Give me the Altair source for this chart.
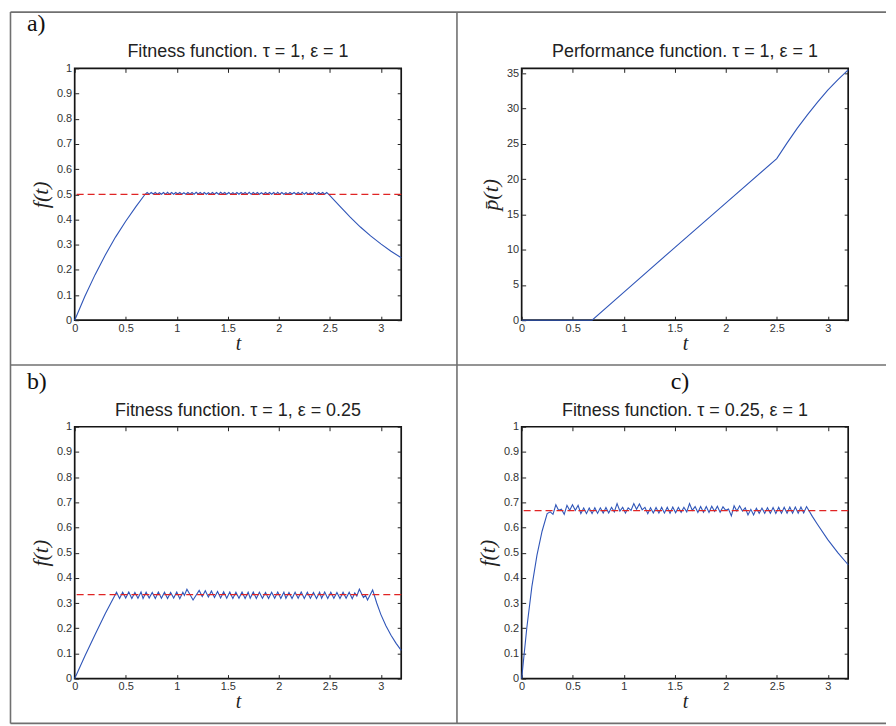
import altair as alt
import pandas as pd

# ---------------- data ----------------
X_TICKS = [0, 0.5, 1, 1.5, 2, 2.5, 3]
F_TICKS = [0, 0.1, 0.2, 0.3, 0.4, 0.5, 0.6, 0.7, 0.8, 0.9, 1]
P_TICKS = [0, 5, 10, 15, 20, 25, 30, 35]

# a) fitness, tau = 1, eps = 1
A_T = [0, 0.1, 0.2, 0.3, 0.4, 0.5, 0.6, 0.69,
       0.71, 0.73, 0.75, 0.77, 0.79, 0.81, 0.83, 0.85, 0.87, 0.89,
       0.91, 0.93, 0.95, 0.97, 0.99, 1.01, 1.03, 1.05, 1.07, 1.09,
       1.11, 1.13, 1.15, 1.17, 1.19, 1.21, 1.23, 1.25, 1.27, 1.29,
       1.31, 1.33, 1.35, 1.37, 1.39, 1.41, 1.43, 1.45, 1.47, 1.49,
       1.51, 1.53, 1.55, 1.57, 1.59, 1.61, 1.63, 1.65, 1.67, 1.69,
       1.71, 1.73, 1.75, 1.77, 1.79, 1.81, 1.83, 1.85, 1.87, 1.89,
       1.91, 1.93, 1.95, 1.97, 1.99, 2.01, 2.03, 2.05, 2.07, 2.09,
       2.11, 2.13, 2.15, 2.17, 2.19, 2.21, 2.23, 2.25, 2.27, 2.29,
       2.31, 2.33, 2.35, 2.37, 2.39, 2.41, 2.43, 2.45, 2.47, 2.49,
       2.6, 2.7, 2.8, 2.9, 3.0, 3.1, 3.2]
A_F = [0, 0.095, 0.181, 0.259, 0.330, 0.393, 0.451, 0.500,
       0.507, 0.500, 0.507, 0.501, 0.507, 0.500, 0.506, 0.500, 0.507, 0.500,
       0.508, 0.500, 0.507, 0.500, 0.507, 0.501, 0.507, 0.500, 0.506, 0.500,
       0.507, 0.500, 0.507, 0.500, 0.508, 0.501, 0.507, 0.500, 0.507, 0.500,
       0.506, 0.500, 0.507, 0.500, 0.507, 0.500, 0.508, 0.501, 0.507, 0.500,
       0.507, 0.500, 0.506, 0.500, 0.507, 0.500, 0.507, 0.501, 0.507, 0.500,
       0.508, 0.500, 0.507, 0.500, 0.507, 0.500, 0.506, 0.500, 0.507, 0.501,
       0.507, 0.500, 0.507, 0.500, 0.508, 0.500, 0.507, 0.500, 0.506, 0.500,
       0.507, 0.501, 0.507, 0.500, 0.507, 0.500, 0.508, 0.500, 0.507, 0.500,
       0.506, 0.500, 0.507, 0.500, 0.507, 0.501, 0.507, 0.500, 0.507, 0.500,
       0.452, 0.409, 0.370, 0.335, 0.303, 0.274, 0.248]
A_REF = 0.5

# performance, tau = 1, eps = 1
P_T = [0, 0.69, 1.0, 1.5, 2.0, 2.5, 2.6, 2.7, 2.8, 2.9, 3.0, 3.1, 3.2]
P_V = [0, 0, 3.94, 10.3, 16.6, 22.9, 25.1, 27.2, 29.1, 30.9, 32.6, 34.1, 35.5]

# b) fitness, tau = 1, eps = 0.25
B_T = [0, 0.1, 0.2, 0.3, 0.41,
       0.44, 0.47, 0.50, 0.53, 0.56, 0.59, 0.62, 0.65, 0.67, 0.70,
       0.73, 0.76, 0.79, 0.82, 0.85, 0.88, 0.91, 0.94, 0.97, 1.00,
       1.03, 1.06, 1.075, 1.10, 1.16, 1.22, 1.25, 1.28, 1.31, 1.34,
       1.37, 1.40, 1.43, 1.46, 1.49, 1.52, 1.55, 1.58, 1.61, 1.64,
       1.67, 1.70, 1.72, 1.75, 1.78, 1.81, 1.84, 1.87, 1.90, 1.93,
       1.96, 1.99, 2.02, 2.05, 2.07, 2.10, 2.13, 2.16, 2.19, 2.22,
       2.25, 2.28, 2.31, 2.34, 2.37, 2.40, 2.42, 2.45, 2.48, 2.51,
       2.54, 2.57, 2.60, 2.63, 2.66, 2.69, 2.72, 2.745, 2.765, 2.79,
       2.83, 2.85, 2.87, 2.92,
       2.96, 3.0, 3.05, 3.1, 3.15, 3.2]
B_F = [0, 0.09, 0.175, 0.258, 0.343,
       0.318, 0.343, 0.320, 0.344, 0.318, 0.342, 0.319, 0.344, 0.318, 0.343,
       0.320, 0.342, 0.318, 0.344, 0.319, 0.343, 0.318, 0.342, 0.320, 0.344,
       0.317, 0.343, 0.330, 0.355, 0.312, 0.350, 0.326, 0.349, 0.324, 0.348,
       0.322, 0.346, 0.320, 0.345, 0.319, 0.344, 0.318, 0.343, 0.319, 0.344,
       0.318, 0.343, 0.319, 0.344, 0.318, 0.343, 0.319, 0.342, 0.318, 0.343,
       0.319, 0.344, 0.318, 0.343, 0.319, 0.342, 0.318, 0.343, 0.319, 0.344,
       0.318, 0.343, 0.319, 0.342, 0.318, 0.343, 0.319, 0.344, 0.318, 0.343,
       0.319, 0.342, 0.318, 0.343, 0.319, 0.343, 0.317, 0.340, 0.328, 0.355,
       0.322, 0.330, 0.312, 0.352,
       0.300, 0.255, 0.210, 0.172, 0.140, 0.112]
B_REF = 0.3333

# c) fitness, tau = 0.25, eps = 1
C_T = [0, 0.05, 0.1, 0.15, 0.2, 0.25,
       0.280, 0.307, 0.335, 0.362, 0.389, 0.417, 0.444, 0.471, 0.498, 0.526,
       0.553, 0.580, 0.608, 0.635, 0.662, 0.690, 0.717, 0.744, 0.771, 0.799,
       0.826, 0.853, 0.881, 0.908, 0.935, 0.963, 0.990, 1.017, 1.044, 1.072,
       1.099, 1.126, 1.154, 1.181, 1.208, 1.236, 1.263, 1.290, 1.317, 1.345,
       1.372, 1.399, 1.427, 1.454, 1.481, 1.509, 1.536, 1.563, 1.590, 1.618,
       1.645, 1.672, 1.700, 1.727, 1.754, 1.782, 1.809, 1.836, 1.863, 1.891,
       1.918, 1.945, 1.973, 2.000, 2.027, 2.055, 2.082, 2.109, 2.136, 2.164,
       2.191, 2.218, 2.246, 2.273, 2.300, 2.328, 2.355, 2.382, 2.409, 2.437,
       2.464, 2.491, 2.519, 2.546, 2.573, 2.601, 2.628, 2.655, 2.682, 2.710,
       2.737, 2.764, 2.792,
       2.85, 2.9, 3.0, 3.1, 3.2]
C_F = [0, 0.2, 0.365, 0.49, 0.585, 0.655,
       0.662, 0.652, 0.690, 0.668, 0.673, 0.652, 0.688, 0.668, 0.690, 0.668,
       0.688, 0.655, 0.677, 0.655, 0.677, 0.655, 0.678, 0.656, 0.678, 0.657,
       0.679, 0.657, 0.680, 0.662, 0.695, 0.665, 0.680, 0.657, 0.678, 0.668,
       0.695, 0.672, 0.693, 0.670, 0.680, 0.655, 0.678, 0.657, 0.679, 0.657,
       0.680, 0.657, 0.680, 0.657, 0.681, 0.658, 0.680, 0.660, 0.680, 0.662,
       0.695, 0.668, 0.683, 0.660, 0.683, 0.660, 0.683, 0.660, 0.684, 0.664,
       0.684, 0.660, 0.682, 0.668, 0.673, 0.646, 0.686, 0.665, 0.686, 0.665,
       0.678, 0.650, 0.672, 0.650, 0.676, 0.656, 0.677, 0.656, 0.678, 0.656,
       0.679, 0.656, 0.680, 0.657, 0.680, 0.657, 0.681, 0.657, 0.681, 0.657,
       0.681, 0.658, 0.683,
       0.643, 0.612, 0.552, 0.499, 0.452]
C_REF = 0.6667

# ---------------- styling ----------------
BLUE = "#2f55b8"
RED = "#e02424"
FRAME = "#707070"
W, H = 328, 253
ONE = pd.DataFrame({"k": [0]})
SANS = "Liberation Sans"
SERIF = "Liberation Serif"

tick_common = dict(grid=False, domain=False, tickSize=4, offset=-4,
                   tickColor="#222222", tickWidth=1)
label_common = dict(labelFont=SANS, labelFontSize=11, labelColor="#333333",
                    format="~g", labelFlush=False)
title_common = dict(titleFont=SERIF, titleFontStyle="italic",
                    titleFontWeight="normal", titleColor="#222222")


def panel(t, v, ref, title, ytitle, ydom, yticks, label, label_x, label_align, segs):
    df = pd.DataFrame({"t": t, "v": v})
    xsc = alt.Scale(domain=[0, 3.2], nice=False, zero=False)
    ysc = alt.Scale(domain=ydom, nice=False, zero=False)

    line = alt.Chart(df).mark_line(color=BLUE, strokeWidth=1.1).encode(
        x=alt.X("t:Q", scale=xsc,
                axis=alt.Axis(orient="bottom", values=X_TICKS, title="t",
                              titleFontSize=20, titlePadding=0, labelPadding=2,
                              **tick_common, **label_common, **title_common)),
        y=alt.Y("v:Q", scale=ysc,
                axis=alt.Axis(orient="left", values=yticks, title=ytitle,
                              titleFontSize=22, titlePadding=4, labelPadding=3,
                              **tick_common, **label_common, **title_common)),
        order=alt.Order("t:Q"),
    )
    opp = alt.Chart(pd.DataFrame({"t": [0.0], "v": [ydom[0]]})).mark_point(opacity=0).encode(
        x=alt.X("t:Q", scale=xsc,
                axis=alt.Axis(orient="top", values=X_TICKS, labels=False,
                              title=None, **tick_common)),
        y=alt.Y("v:Q", scale=ysc,
                axis=alt.Axis(orient="right", values=yticks, labels=False,
                              title=None, **tick_common)),
    )
    layers = [line, opp]
    if ref is not None:
        layers.insert(1, alt.Chart(pd.DataFrame({"r": [ref]})).mark_rule(
            color=RED, strokeDash=[7, 4], strokeWidth=1.3).encode(
            y=alt.Y("r:Q", scale=ysc, axis=None)))
    for s in segs:
        if s[0] == "h":
            enc = dict(y=alt.value(s[1]), x=alt.value(s[2]), x2=alt.value(s[3]))
        else:
            enc = dict(x=alt.value(s[1]), y=alt.value(s[2]), y2=alt.value(s[3]))
        layers.append(alt.Chart(ONE).mark_rule(color=FRAME, strokeWidth=1.6).encode(**enc))
    # panel title as text above the plot box
    layers.append(alt.Chart(ONE).mark_text(
        text=title, font=SANS, fontSize=18, align="center",
        baseline="alphabetic", color="#222222").encode(
        x=alt.value(W / 2), y=alt.value(-11)))
    if label:
        layers.append(alt.Chart(ONE).mark_text(
            text=label, font=SERIF, fontSize=24, align=label_align,
            baseline="alphabetic", color="#111111").encode(
            x=alt.value(label_x), y=alt.value(-38)))
    return alt.layer(*layers).resolve_axis(x="independent", y="independent").properties(
        width=W, height=H)


pa = panel(A_T, A_F, A_REF, "Fitness function. τ = 1, ε = 1", "f(t)", [0, 1], F_TICKS,
           "a)", -48, "left",
           [("v", -64.5, -56.5, 298), ("h", -56.5, -64.5, 384),
            ("v", 384, -56.5, 298), ("h", 298, -64.5, 384)])
pp = panel(P_T, P_V, None, "Performance function. τ = 1, ε = 1", "p\u0304(t)", [0, 35.7], P_TICKS,
           None, 0, "left",
           [("h", -56.5, -65, 366), ("h", 298, -65, 366)])
pb = panel(B_T, B_F, B_REF, "Fitness function. τ = 1, ε = 0.25", "f(t)", [0, 1], F_TICKS,
           "b)", -48, "left",
           [("v", -64.5, -62, 298), ("h", 298, -64.5, 384), ("v", 384, -62, 298)])
pc = panel(C_T, C_F, C_REF, "Fitness function. τ = 0.25, ε = 1", "f(t)", [0, 1], F_TICKS,
           "c)", 159, "center",
           [("h", 298, -65, 366)])

chart = alt.concat(pa, pp, pb, pc, columns=2,
                   spacing={"row": 107, "column": 121},
                   bounds="flush", padding=0).configure_view(
    stroke="#151515", strokeWidth=1.7)

chart.save("out.html", embed_options={"renderer": "svg", "actions": False})
